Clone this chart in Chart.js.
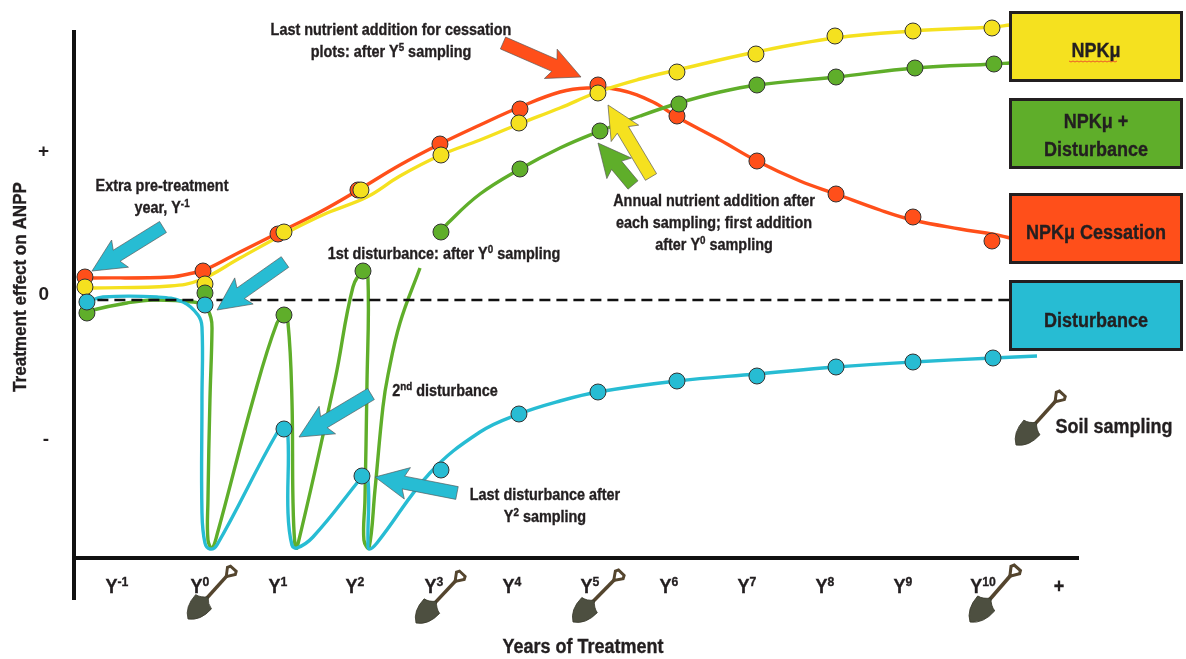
<!DOCTYPE html>
<html lang="en">

<head>
    <meta charset="UTF-8">
    <title>Treatment effect on ANPP</title>
    <script src="https://cdn.jsdelivr.net/npm/chart.js"></script>
    <style>
        body {
            margin: 0;
            background-color: white;
        }

        #wrap {
            position: relative;
            width: 1186px;
            height: 659px;
        }
    </style>
</head>

<body>
    <div id="wrap"><canvas id="chart"></canvas></div>

    <script>
        // x is years of treatment, y is the (unitless) effect on ANPP
        const redLineX = [-1.522, -1.42, -.444, -.152, .025, .444, .951, 1.458, 1.966, 2.473, 2.98, 3.488, 3.995, 4.502, 4.845, 5.263, 5.682, 5.986, 6.531, 7.0, 7.546, 8.003, 8.561, 8.979, 9.575, 9.981, 10.209];
        const redLineY = [.22, .22, .23, .27, .31, .48, .68, .88, 1.11, 1.35, 1.56, 1.75, 1.93, 2.08, 2.12, 2.10, 1.98, 1.83, 1.60, 1.39, 1.19, 1.06, .90, .80, .71, .66, .62];
        const yellowLineX = [-1.522, -1.42, -.444, -.063, .444, 1.002, 1.547, 2.054, 2.473, 2.993, 3.488, 3.982, 4.502, 4.984, 5.517, 5.986, 6.988, 7.99, 8.979, 9.981, 10.209];
        const yellowLineY = [.12, .12, .14, .20, .42, .66, .87, 1.03, 1.24, 1.45, 1.60, 1.76, 1.92, 2.08, 2.21, 2.30, 2.48, 2.62, 2.69, 2.73, 2.75];
        const greenLineX = [-1.497, -1.42, -.989, -.659, -.152, 0, .076, .089, .063, .038, .038, .089, .152, .609, .913, 1.002, 1.053, 1.103, 1.116, 1.141, 1.167, 1.649, 1.877, 2.004, 2.067, 2.054, 2.029, 2.016, 2.08, 2.156, 2.257, 2.321, 2.473, 2.727, null, 2.993, 3.082, 3.488, 3.995, 4.502, 5.01, 5.517, 6.011, 6.531, 7.0, 8.003, 9.004, 10.006, 10.209];
        const greenLineY = [-.13, -.10, -.03, 0, -.02, -.06, -.18, -.30, -1.0, -2.0, -2.4, -2.48, -2.35, -1.0, -.23, -.18, -.23, -1.0, -2.0, -2.45, -2.48, -.8, .13, .28, .23, -.87, -2.0, -2.4, -2.48, -1.9, -1.07, -.75, -.23, .32, null, .68, .77, 1.06, 1.31, 1.52, 1.69, 1.84, 1.97, 2.08, 2.15, 2.23, 2.32, 2.36, 2.37];
        const blueLineX = [-1.497, -1.294, -.609, -.279, -.089, -.038, -.038, -.038, 0, .063, .152, .913, 1.002, 1.053, 1.053, 1.103, 1.167, 1.37, 1.928, 1.991, 2.067, 2.067, 2.08, 2.181, 2.853, 3.488, 3.982, 4.502, 4.984, 5.986, 7.0, 8.003, 8.979, 9.994, 10.552];
        const blueLineY = [-.02, .03, .03, -.02, -.15, -.27, -1.0, -2.13, -2.43, -2.49, -2.45, -1.33, -1.29, -1.37, -2.13, -2.45, -2.48, -2.37, -1.83, -1.76, -1.80, -2.40, -2.49, -2.43, -1.73, -1.32, -1.14, -1.01, -.92, -.81, -.74, -.67, -.62, -.58, -.56];

        // soil sampling points
        const redSampleX = [-1.522, -.025, .926, 1.94, 2.98, 3.995, 4.984, 5.986, 7.0, 8.003, 8.979, 9.981];
        const redSampleY = [.23, .29, .66, 1.10, 1.56, 1.91, 2.15, 1.84, 1.39, 1.06, .83, .59];
        const yellowSampleX = [-1.522, 0, 1.002, 1.978, 2.993, 3.982, 4.984, 5.986, 6.988, 7.99, 8.979, 9.981];
        const yellowSampleY = [.13, .16, .68, 1.10, 1.45, 1.77, 2.07, 2.28, 2.46, 2.64, 2.69, 2.72];
        const greenSampleX = [-1.497, 0, 1.002, 2.004, 2.993, 3.995, 5.01, 6.011, 7.0, 8.003, 9.004, 10.006];
        const greenSampleY = [-.13, .07, -.15, .29, .68, 1.31, 1.69, 1.96, 2.15, 2.23, 2.32, 2.36];
        const blueSampleX = [-1.497, 0, 1.002, 1.991, 2.993, 3.982, 4.984, 5.986, 7.0, 8.003, 8.979, 9.994];
        const blueSampleY = [-.02, -.05, -1.29, -1.76, -1.70, -1.14, -.92, -.81, -.76, -.67, -.62, -.58];

        const zeroLineX = [-1.58, 10.25];
        const zeroLineY = [0, 0];

        // "^" switches superscript on and off
        const xTickLabels = ['Y^-1^', 'Y^0^', 'Y^1^', 'Y^2^', 'Y^3^', 'Y^4^', 'Y^5^', 'Y^6^', 'Y^7^', 'Y^8^', 'Y^9^', 'Y^10^', '+'];
        const xTickValues = [-1.116, -.063, .926, 1.902, 2.904, 3.893, 4.883, 5.885, 6.874, 7.863, 8.852, 9.867, 10.83];
        const yTickLabels = ['+', '0', '-'];
        const yTickValues = [1.48, .05, -1.4];

        const RED = '#ff4f1a';
        const YELLOW = '#f5e11f';
        const GREEN = '#5fae2a';
        const BLUE = '#27bcd3';
        const INK = '#231f20';
        const FONT = '"Liberation Sans", sans-serif';
        const NARROW = 0.9; // the original type is a condensed bold

        function pts(xs, ys) {
            return xs.map((x, i) => ({ x: x, y: ys[i] }));
        }

        function lineSet(xs, ys, color, order) {
            return {
                data: pts(xs, ys),
                borderColor: color,
                borderWidth: 3.4,
                pointRadius: 0,
                tension: 0.4,
                spanGaps: false,
                clip: false,
                order: order
            };
        }

        function sampleSet(xs, ys, color, order) {
            return {
                data: pts(xs, ys),
                showLine: false,
                pointRadius: 8,
                pointBackgroundColor: color,
                pointBorderColor: '#333',
                pointBorderWidth: 1,
                clip: false,
                order: order
            };
        }

        // text with superscripts, centred on cx
        function richText(ctx, text, cx, y, size) {
            const parts = text.split('^');
            let width = 0;
            parts.forEach((p, i) => {
                ctx.font = 'bold ' + (i % 2 ? size * 0.68 : size) + 'px ' + FONT;
                width += ctx.measureText(p).width;
            });
            ctx.save();
            ctx.translate(cx, y);
            ctx.scale(NARROW, 1);
            let x = -width / 2;
            ctx.textAlign = 'left';
            ctx.textBaseline = 'alphabetic';
            ctx.strokeStyle = ctx.fillStyle;
            ctx.lineWidth = 0.35;
            parts.forEach((p, i) => {
                ctx.font = 'bold ' + (i % 2 ? size * 0.68 : size) + 'px ' + FONT;
                ctx.fillText(p, x, i % 2 ? -size * 0.36 : 0);
                ctx.strokeText(p, x, i % 2 ? -size * 0.36 : 0);
                x += ctx.measureText(p).width;
            });
            ctx.restore();
        }

        function arrow(ctx, x0, y0, x1, y1, color) {
            const len = Math.hypot(x1 - x0, y1 - y0);
            const shaft = 6.5;
            const headW = 16;
            const headL = 33;
            ctx.save();
            ctx.translate(x0, y0);
            ctx.rotate(Math.atan2(y1 - y0, x1 - x0));
            ctx.beginPath();
            ctx.moveTo(0, -shaft);
            ctx.lineTo(len - headL + 4, -shaft);
            ctx.lineTo(len - headL, -headW);
            ctx.lineTo(len, 0);
            ctx.lineTo(len - headL, headW);
            ctx.lineTo(len - headL + 4, shaft);
            ctx.lineTo(0, shaft);
            ctx.closePath();
            ctx.fillStyle = color;
            ctx.strokeStyle = '#555';
            ctx.lineWidth = 0.6;
            ctx.fill();
            ctx.stroke();
            ctx.restore();
        }

        // from blade tip to the top of the handle
        function shovel(ctx, x0, y0, x1, y1) {
            const len = Math.hypot(x1 - x0, y1 - y0);
            ctx.save();
            ctx.translate(x0, y0);
            ctx.rotate(Math.atan2(y1 - y0, x1 - x0) + Math.PI / 2);
            ctx.scale(len / 71, len / 71);
            ctx.strokeStyle = '#54452e';
            ctx.lineWidth = 3.6;
            ctx.beginPath();
            ctx.moveTo(0, -24);
            ctx.lineTo(0, -60);
            ctx.stroke();
            ctx.lineWidth = 3;
            ctx.beginPath();
            ctx.moveTo(0, -59);
            ctx.lineTo(-5.5, -67);
            ctx.lineTo(-4, -70);
            ctx.lineTo(4, -70);
            ctx.lineTo(5.5, -67);
            ctx.closePath();
            ctx.stroke();
            ctx.fillStyle = '#4d4f40';
            ctx.strokeStyle = '#3a3a2c';
            ctx.lineWidth = 0.8;
            ctx.beginPath();
            ctx.moveTo(0, 0);
            ctx.quadraticCurveTo(-11, -7, -11, -24);
            ctx.quadraticCurveTo(-5, -25, 0, -31);
            ctx.quadraticCurveTo(5, -25, 11, -24);
            ctx.quadraticCurveTo(11, -7, 0, 0);
            ctx.fill();
            ctx.stroke();
            ctx.restore();
        }

        function legendBox(ctx, top, color, lines) {
            ctx.fillStyle = color;
            ctx.strokeStyle = INK;
            ctx.lineWidth = 3;
            ctx.fillRect(1010.5, top + 1.5, 171, 68);
            ctx.strokeRect(1010.5, top + 1.5, 171, 68);
            ctx.fillStyle = INK;
            lines.forEach(l => richText(ctx, l.text, 1096, l.y, 20));
        }

        const decorations = {
            id: 'decorations',
            afterDatasetsDraw(chart) {
                const ctx = chart.ctx;
                const xScale = chart.scales.x;
                const area = chart.chartArea;
                ctx.save();

                // the y axis runs on below the x axis
                ctx.fillStyle = '#111';
                ctx.fillRect(area.left - 2, area.bottom, 4, 42);

                arrow(ctx, 163, 227, 92, 271, BLUE);
                arrow(ctx, 285, 262, 217, 310, BLUE);
                arrow(ctx, 371, 394, 299, 437, BLUE);
                arrow(ctx, 457, 493, 375, 477, BLUE);
                arrow(ctx, 503, 43, 581, 77, RED);
                arrow(ctx, 651, 177, 608, 105, YELLOW);
                arrow(ctx, 633, 185, 598, 143, GREEN);

                ctx.fillStyle = INK;
                xTickLabels.forEach((t, i) => {
                    richText(ctx, t, xScale.getPixelForValue(xTickValues[i]), 593, 20);
                });
                richText(ctx, 'Years of Treatment', 583, 653, 20);
                richText(ctx, 'Last nutrient addition for cessation', 391, 35, 16);
                richText(ctx, 'plots: after Y^5^ sampling', 391, 57, 16);
                richText(ctx, 'Extra pre-treatment', 162, 191, 16);
                richText(ctx, 'year, Y^-1^', 162, 213, 16);
                richText(ctx, '1st disturbance: after Y^0^ sampling', 444, 259, 16);
                richText(ctx, '2^nd^ disturbance', 445, 396, 16);
                richText(ctx, 'Annual nutrient addition after', 714, 206, 16);
                richText(ctx, 'each sampling; first addition', 714, 228, 16);
                richText(ctx, 'after Y^0^ sampling', 714, 250, 16);
                richText(ctx, 'Last disturbance after', 545, 500, 16);
                richText(ctx, 'Y^2^ sampling', 545, 522, 16);
                richText(ctx, 'Soil sampling', 1114, 433, 20);

                ctx.save();
                ctx.translate(26, 287);
                ctx.rotate(-Math.PI / 2);
                richText(ctx, 'Treatment effect on ANPP', 0, 0, 19);
                ctx.restore();

                legendBox(ctx, 11, YELLOW, [{ text: 'NPKμ', y: 57 }]);
                legendBox(ctx, 98, GREEN, [{ text: 'NPKμ +', y: 128 }, { text: 'Disturbance', y: 156 }]);
                legendBox(ctx, 193, RED, [{ text: 'NPKμ Cessation', y: 239 }]);
                legendBox(ctx, 280, BLUE, [{ text: 'Disturbance', y: 327 }]);

                // spell checker squiggle under NPKμ in the original
                ctx.strokeStyle = '#e8372c';
                ctx.lineWidth = 0.8;
                ctx.beginPath();
                for (let x = 1069, k = 0; x < 1119; x += 2, k++) {
                    ctx.lineTo(x, 61 + (k % 2));
                }
                ctx.stroke();

                shovel(ctx, 188, 619, 234, 568);
                shovel(ctx, 416, 623, 463, 573);
                shovel(ctx, 573, 622, 622, 572);
                shovel(ctx, 970, 622, 1018, 567);
                shovel(ctx, 1016, 445, 1063, 393);

                ctx.restore();
            }
        };

        const canvas = document.getElementById('chart');
        canvas.width = 1186;
        canvas.height = 659;

        new Chart(canvas, {
            type: 'line',
            data: {
                datasets: [
                    sampleSet(blueSampleX, blueSampleY, BLUE, 1),
                    sampleSet(greenSampleX, greenSampleY, GREEN, 2),
                    sampleSet(yellowSampleX, yellowSampleY, YELLOW, 3),
                    sampleSet(redSampleX, redSampleY, RED, 4),
                    {
                        data: pts(zeroLineX, zeroLineY),
                        borderColor: '#111',
                        borderWidth: 2.5,
                        borderDash: [11, 6],
                        pointRadius: 0,
                        clip: false,
                        order: 5
                    },
                    lineSet(blueLineX, blueLineY, BLUE, 6),
                    lineSet(greenLineX, greenLineY, GREEN, 7),
                    lineSet(yellowLineX, yellowLineY, YELLOW, 8),
                    lineSet(redLineX, redLineY, RED, 9)
                ]
            },
            options: {
                responsive: false,
                animation: false,
                devicePixelRatio: 1,
                layout: { padding: { top: 32, right: 108 } },
                plugins: { legend: { display: false }, tooltip: { enabled: false } },
                scales: {
                    x: {
                        type: 'linear',
                        min: -1.661,
                        max: 11.072,
                        grid: { display: false },
                        border: { color: '#111', width: 4 },
                        ticks: { display: false },
                        afterFit(axis) { axis.height = 101; }
                    },
                    y: {
                        min: -2.58,
                        max: 2.68,
                        grid: { display: false },
                        border: { color: '#111', width: 4 },
                        ticks: {
                            color: INK,
                            padding: 17,
                            font: { family: FONT, size: 19, weight: 'bold' },
                            callback: (value, index) => yTickLabels[index]
                        },
                        afterBuildTicks(axis) { axis.ticks = yTickValues.map(v => ({ value: v })); },
                        afterFit(axis) { axis.width = 74; }
                    }
                }
            },
            plugins: [decorations]
        });
    </script>
</body>

</html>
